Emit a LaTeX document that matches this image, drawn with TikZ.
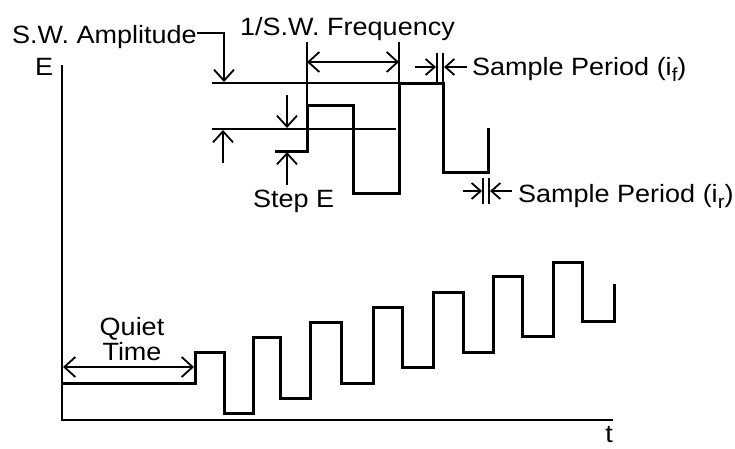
\documentclass[tikz,border=0pt]{standalone}
\usepackage{fontspec}
\setmainfont[FakeStretch=1.08]{Liberation Sans}
\usetikzlibrary{arrows.meta}
\begin{document}
\begin{tikzpicture}[x=1pt,y=-1pt,
  lbl/.style={inner sep=0pt, font=\fontsize{25}{29}\selectfont, anchor=base west},
  clbl/.style={inner sep=0pt, font=\fontsize{25}{29}\selectfont, anchor=base},
  dimline/.style={line width=1.9pt},
  wave/.style={line width=3pt, line join=miter},
  barbtip/.tip={Straight Barb[length=11pt,width=20pt,line width=1.8pt]},
  smalltip/.tip={Straight Barb[length=9pt,width=16pt,line width=1.8pt]},
  barb/.style={-barbtip},
  sbarb/.style={-smalltip}
]
\useasboundingbox (0,0) rectangle (735,448);

% axes
\coordinate (axtop) at (62,65);
\coordinate (origin) at (62,420);
\coordinate (axend) at (613,420);
\draw[dimline] (axtop) -- (origin) -- (axend);

% labels
\node[lbl] (amp) at (12,43) {S.W. Amplitude};
\node[lbl] (E) at (35,75) {E};
\node[lbl] (freq) at (240,35) {1/S.W. Frequency};
\node[lbl] (spf) at (472,75) {Sample Period (i\raisebox{-6pt}{\fontsize{19}{19}\selectfont f})};
\node[lbl] (spr) at (518,202) {Sample Period (i\raisebox{-6pt}{\fontsize{19}{19}\selectfont r})};
\node[lbl] (step) at (253,207) {Step E};
\node[clbl] (quiet) at (132,335) {Quiet};
\node[clbl] (time) at (132,360) {Time};
\node[clbl] (t) at (609,442) {t};

% amplitude dimension
\draw[dimline, barb] (197,33) -- (224,33) -- (224,82);
\draw[dimline] (212,83) -- (399,83);
\draw[dimline] (212,129) -- (396,129);
\draw[dimline, barb] (223,163) -- (223,130);

% frequency dimension
\draw[dimline] (307,42) -- (307,105);
\draw[dimline] (399,42) -- (399,83);
\draw[dimline, barbtip-barbtip] (307,62) -- (399,62);

% step E
\draw[dimline, barb] (287,95) -- (287,128);
\draw[dimline, barb] (287,185) -- (287,152);

% upper waveform
\draw[wave] (275,151) -- (307,151) -- (307,105) -- (353,105) -- (353,193)
  -- (399,193) -- (399,83) -- (443,83) -- (443,172) -- (488,172) -- (488,128);

% sample period i_f
\draw[dimline] (437,53) -- (437,83);
\draw[dimline] (443,53) -- (443,83);
\draw[dimline, sbarb] (415,67) -- (436,67);
\draw[dimline, sbarb] (467,67) -- (444,67);

% sample period i_r
\draw[dimline] (483,178) -- (483,204);
\draw[dimline] (489,178) -- (489,204);
\draw[dimline, sbarb] (463,191) -- (482,191);
\draw[dimline, sbarb] (512,191) -- (490,191);

% lower waveform
\draw[wave] (62,383) -- (195,383) -- (195,352) -- (224,352) -- (224,413)
  -- (253,413) -- (253,337) -- (280,337) -- (280,398) -- (310,398)
  -- (310,322) -- (341,322) -- (341,383) -- (373,383) -- (373,307)
  -- (402,307) -- (402,367) -- (433,367) -- (433,292) -- (463,292)
  -- (463,352) -- (493,352) -- (493,276) -- (522,276) -- (522,336)
  -- (553,336) -- (553,262) -- (582,262) -- (582,321) -- (614,321) -- (614,284);

% quiet time
\draw[dimline, barbtip-barbtip] (63,367) -- (194,367);
\end{tikzpicture}
\end{document}
